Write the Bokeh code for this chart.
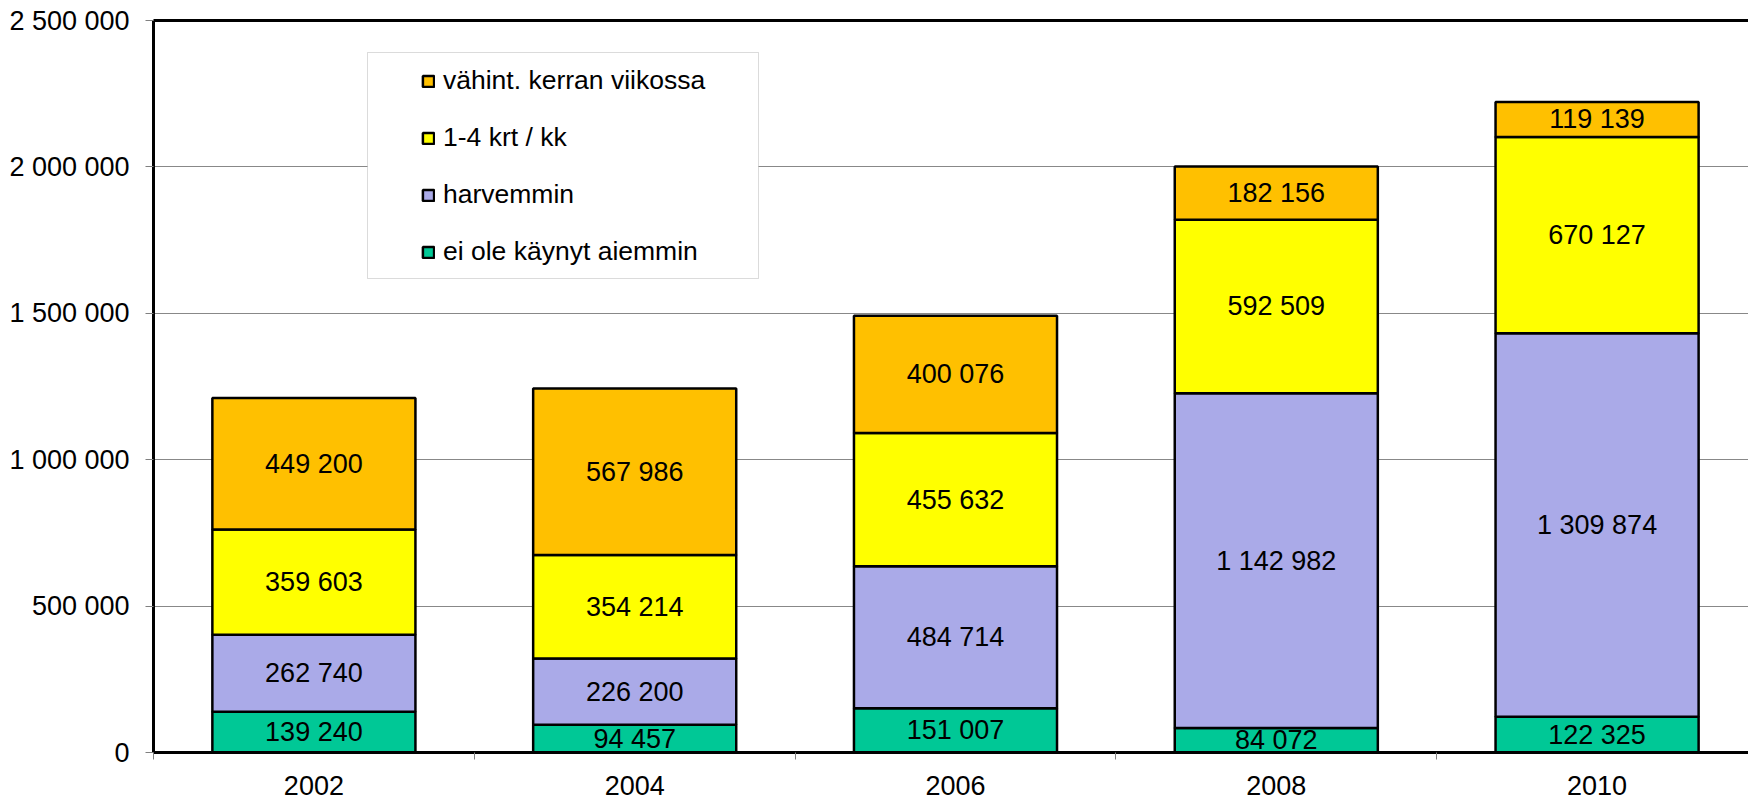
import numpy as np
from bokeh.plotting import figure
from bokeh.models import (ColumnDataSource, FixedTicker, LinearAxis, Legend, LegendItem,
                          BoxAnnotation, Range1d)
from bokeh.core.properties import value
from bokeh.embed import file_html
from bokeh.resources import INLINE

years = ["2002", "2004", "2006", "2008", "2010"]
ei_ole = [139240, 94457, 151007, 84072, 122325]
harvemmin = [262740, 226200, 484714, 1142982, 1309874]
krt_kk = [359603, 354214, 455632, 592509, 670127]
vahint = [449200, 567986, 400076, 182156, 119139]

series_keys = ["ei_ole", "harvemmin", "krt_kk", "vahint"]
series_labels = ["ei ole käynyt aiemmin", "harvemmin", "1-4 krt / kk", "vähint. kerran viikossa"]
series_colors = ["#00C896", "#AAAAE8", "#FFFF00", "#FFC000"]
y_ticks = [0, 500000, 1000000, 1500000, 2000000, 2500000]

FONT = "Liberation Sans"
FS = "27px"

def fmt(v):
    return f"{int(v):,}".replace(",", " ")

xs = list(range(len(years)))
src = ColumnDataSource(dict(x=xs, ei_ole=ei_ole, harvemmin=harvemmin, krt_kk=krt_kk, vahint=vahint))

p = figure(width=1748, height=804, output_backend="svg", toolbar_location=None,
           x_range=Range1d(-0.5, 4.472), y_range=Range1d(0, 2500000),
           min_border_left=153, min_border_right=0, min_border_top=20, min_border_bottom=52)
p.outline_line_color = None
p.background_fill_color = "white"

renderers = p.vbar_stack(series_keys, x="x", width=0.633, source=src,
                         fill_color=series_colors, line_color="black", line_width=2.5)

# segment labels
vals = np.array([ei_ole, harvemmin, krt_kk, vahint], dtype=float)
cum = np.cumsum(vals, axis=0)
mids = cum - vals / 2
lx, ly, lt = [], [], []
for s in range(vals.shape[0]):
    for i in range(vals.shape[1]):
        lx.append(xs[i]); ly.append(mids[s, i]); lt.append(fmt(vals[s, i]))
p.text(x=lx, y=ly, text=lt, text_align="center", text_baseline="middle",
       text_font=value(FONT), text_font_size=FS, text_color="black")

# y axis
p.yaxis.ticker = FixedTicker(ticks=y_ticks)
p.yaxis.major_label_overrides = {t: fmt(t) for t in y_ticks}
p.yaxis.axis_line_width = 3
p.yaxis.axis_line_color = "black"
p.yaxis.major_tick_out = 8
p.yaxis.major_tick_in = 0
p.yaxis.major_tick_line_color = "#808080"
p.yaxis.minor_tick_line_color = None
p.yaxis.major_label_text_font = FONT
p.yaxis.major_label_text_font_size = FS
p.yaxis.major_label_text_color = "black"
p.yaxis.major_label_standoff = 16

p.ygrid.ticker = FixedTicker(ticks=y_ticks)
p.ygrid.grid_line_color = "#888888"
p.ygrid.grid_line_width = 1
p.xgrid.grid_line_color = None

# x axis
p.xaxis.ticker = FixedTicker(ticks=xs, minor_ticks=[i - 0.5 for i in range(len(years) + 1)])
p.xaxis.major_label_overrides = {i: y for i, y in enumerate(years)}
p.xaxis.axis_line_width = 3
p.xaxis.axis_line_color = "black"
p.xaxis.major_tick_out = 0
p.xaxis.major_tick_in = 0
p.xaxis.major_tick_line_color = None
p.xaxis.minor_tick_out = 7
p.xaxis.minor_tick_in = 0
p.xaxis.minor_tick_line_color = "#808080"
p.xaxis.major_label_text_font = FONT
p.xaxis.major_label_text_font_size = FS
p.xaxis.major_label_text_color = "black"
p.xaxis.major_label_standoff = 16

# top border line
top_axis = LinearAxis(ticker=FixedTicker(ticks=[]), axis_line_width=3, axis_line_color="black",
                      major_tick_line_color=None, minor_tick_line_color=None,
                      major_label_text_font_size="0px")
p.add_layout(top_axis, "above")

# legend box
box = BoxAnnotation(left=214, right=605, bottom=474, top=700,
                    left_units="screen", right_units="screen",
                    bottom_units="screen", top_units="screen",
                    fill_color="white", fill_alpha=1.0, line_color="#888888", line_width=1)
p.add_layout(box)

order = [3, 2, 1, 0]
items = [LegendItem(label=series_labels[k], renderers=[renderers[k]]) for k in order]
legend = Legend(items=items, location=(268, 485), padding=0, spacing=26,
                label_height=30, glyph_width=14, glyph_height=14, label_standoff=8,
                label_text_font=FONT, label_text_font_size="26.5px", label_text_color="black",
                background_fill_alpha=0, border_line_color=None, margin=0)
p.add_layout(legend)

open("out.html", "w").write(file_html(p, INLINE))
